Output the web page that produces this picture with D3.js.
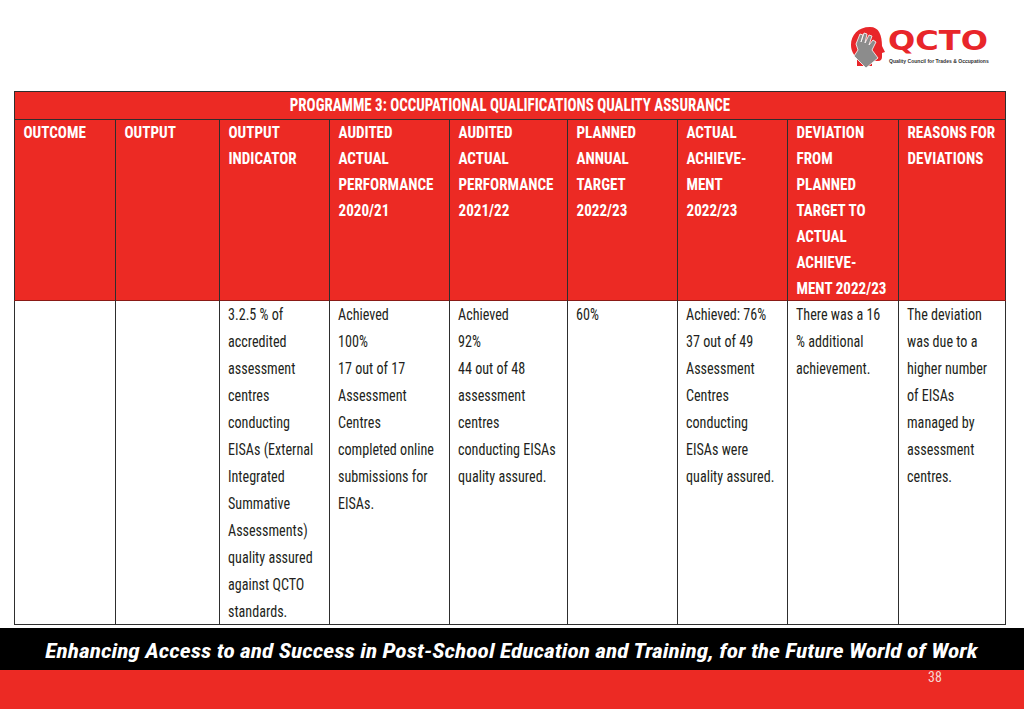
<!DOCTYPE html>
<html><head><meta charset="utf-8">
<script src="https://cdn.jsdelivr.net/npm/d3@7"></script>
<style>
html,body{margin:0;padding:0;background:#fff;}
svg{display:block;}
</style></head>
<body>
<svg id="c" width="1024" height="709"></svg>
<script>
// ---------- data ----------
const title = "PROGRAMME 3: OCCUPATIONAL QUALIFICATIONS QUALITY ASSURANCE";
const headers = [
  ["OUTCOME"],
  ["OUTPUT"],
  ["OUTPUT", "INDICATOR"],
  ["AUDITED", "ACTUAL", "PERFORMANCE", "2020/21"],
  ["AUDITED", "ACTUAL", "PERFORMANCE", "2021/22"],
  ["PLANNED", "ANNUAL", "TARGET", "2022/23"],
  ["ACTUAL", "ACHIEVE-", "MENT", "2022/23"],
  ["DEVIATION", "FROM", "PLANNED", "TARGET TO", "ACTUAL", "ACHIEVE-", "MENT 2022/23"],
  ["REASONS FOR", "DEVIATIONS"]
];
const cells = [
  [],
  [],
  ["3.2.5 % of", "accredited", "assessment", "centres", "conducting", "EISAs (External", "Integrated", "Summative", "Assessments)", "quality assured", "against QCTO", "standards."],
  ["Achieved", "100%", "17 out of 17", "Assessment", "Centres", "completed online", "submissions for", "EISAs."],
  ["Achieved", "92%", "44 out of 48", "assessment", "centres", "conducting EISAs", "quality assured."],
  ["60%"],
  ["Achieved: 76%", "37 out of 49", "Assessment", "Centres", "conducting", "EISAs were", "quality assured."],
  ["There was a 16", "% additional", "achievement."],
  ["The deviation", "was due to a", "higher number", "of EISAs", "managed by", "assessment", "centres."]
];
const footerText = "Enhancing Access to and Success in Post-School Education and  Training, for the Future World of Work";
const pageNumber = "38";
const logoName = "QCTO";
const logoSub = "Quality Council for Trades & Occupations";

// ---------- layout ----------
const colWidths = [101, 104, 110, 120, 118, 110, 110, 111, 108];
const tableLeft = 14, tableTop = 91, titleBottom = 119, headBottom = 300, tableBottom = 625;
const RED = "#ec2a24", LINE = "#2e2e2e", INK = "#231f20";
const FONT = "'Liberation Sans Narrow','Roboto Condensed','DejaVu Sans Condensed','Liberation Sans',Arial,sans-serif";

const svg = d3.select("#c");
const edges = [tableLeft];
colWidths.forEach(w => edges.push(edges[edges.length-1] + w));
const tableRight = edges[edges.length-1];
const x = d3.scaleOrdinal().domain(d3.range(colWidths.length)).range(edges.slice(0,-1));

function measure(str, size, weight, style) {
  const t = svg.append("text").attr("font-family", FONT).attr("font-size", size)
    .attr("font-weight", weight || "normal").attr("font-style", style || "normal").text(str);
  const w = t.node().getComputedTextLength(); t.remove(); return w;
}
const HS = 17, BS = 16.5, TS = 17.5, FS = 20;
const hScale = 95 / measure("PERFORMANCE", HS, "bold");
const bScale = 96 / measure("completed online", BS);
const tScale = 441 / measure(title, TS, "bold");
const fScale = 933 / measure(footerText, FS, "bold", "italic");

// backgrounds
svg.append("rect").attr("x", tableLeft).attr("y", tableTop).attr("width", tableRight - tableLeft)
  .attr("height", headBottom - tableTop).attr("fill", RED);
svg.append("rect").attr("x", tableLeft).attr("y", headBottom).attr("width", tableRight - tableLeft)
  .attr("height", tableBottom - headBottom).attr("fill", "#fff");

// grid lines
const g = svg.append("g").attr("stroke", LINE).attr("stroke-width", 1).attr("shape-rendering", "crispEdges");
g.append("rect").attr("x", tableLeft + 0.5).attr("y", tableTop + 0.5).attr("width", tableRight - tableLeft - 1)
  .attr("height", tableBottom - tableTop - 1).attr("fill", "none");
g.append("line").attr("x1", tableLeft).attr("x2", tableRight).attr("y1", titleBottom + 0.5).attr("y2", titleBottom + 0.5);
g.append("line").attr("x1", tableLeft).attr("x2", tableRight).attr("y1", headBottom + 0.5).attr("y2", headBottom + 0.5).attr("stroke", "#8a1a16");
g.selectAll("line.v").data(edges.slice(1, -1)).join("line").attr("class", "v")
  .attr("x1", d => d + 0.5).attr("x2", d => d + 0.5).attr("y1", titleBottom).attr("y2", tableBottom);

// title
svg.append("text").attr("font-family", FONT).attr("font-size", TS).attr("font-weight", "bold").attr("fill", "#fff")
  .attr("text-anchor", "middle")
  .attr("transform", `translate(${(tableLeft + tableRight) / 2},111) scale(${tScale},1)`).text(title);

// header text
const hy = d3.scaleLinear().domain([0, 1]).range([138, 164]);
headers.forEach((lines, i) => {
  svg.append("g").selectAll("text").data(lines).join("text")
    .attr("font-family", FONT).attr("font-size", HS).attr("font-weight", "bold").attr("fill", "#fff")
    .attr("transform", (d, j) => `translate(${x(i) + 9.5},${hy(j)}) scale(${hScale},1)`).text(d => d);
});

// body text
const by = d3.scaleLinear().domain([0, 1]).range([320, 347]);
cells.forEach((lines, i) => {
  svg.append("g").selectAll("text").data(lines).join("text")
    .attr("font-family", FONT).attr("font-size", BS).attr("fill", INK)
    .attr("transform", (d, j) => `translate(${x(i) + 9},${by(j)}) scale(${bScale},1)`).text(d => d);
});

// footer bands
svg.append("rect").attr("x", 0).attr("y", 628).attr("width", 1024).attr("height", 42).attr("fill", "#000");
svg.append("rect").attr("x", 0).attr("y", 670).attr("width", 1024).attr("height", 39).attr("fill", RED);
svg.append("text").attr("font-family", FONT).attr("font-size", FS).attr("font-weight", "bold").attr("font-style", "italic")
  .attr("fill", "#fff").attr("text-anchor", "middle")
  .attr("transform", `translate(511.5,658) scale(${fScale},1)`).text(footerText);
svg.append("text").attr("font-family", FONT).attr("font-size", 14).attr("fill", "#f6d6d2")
  .attr("text-anchor", "middle").attr("x", 935).attr("y", 682).text(pageNumber);

// logo
const logo = svg.append("g");
logo.append("path").attr("fill", "#e8262a")
  .attr("d", "M870,27 C858,27 851,35 851,45 C851,51 854,55 857,58 L857,66 L872,66 L872,61 L878,61 C881,61 882,59 882,57 L882,53 L885,52 L882,46 C882,35 879,27 870,27 Z");
logo.append("path").attr("fill", "#8c8c8c").attr("stroke", "#fff").attr("stroke-width", 0.8)
  .attr("d", "M856,44 L860,34 L863,35 L861,42 L864,33 L867,34 L865,43 L869,35 L872,36 L869,45 L873,40 L876,42 L872,50 L878,58 L866,68 L854,56 L858,50 Z");
const qt = logo.append("text").attr("font-family", "'DejaVu Sans','Liberation Sans',sans-serif").attr("font-weight", "bold")
  .attr("font-size", 27).attr("fill", "#e8262a").text(logoName);
const qw = qt.node().getComputedTextLength();
qt.attr("transform", `translate(888,50) scale(${100 / qw},1)`);
const st = logo.append("text").attr("font-family", "'Liberation Sans',Arial,sans-serif").attr("font-weight", "bold")
  .attr("font-size", 5).attr("fill", "#333").text(logoSub);
const sw = st.node().getComputedTextLength();
st.attr("transform", `translate(889,63) scale(${100 / sw},1)`);
</script>
</body></html>
